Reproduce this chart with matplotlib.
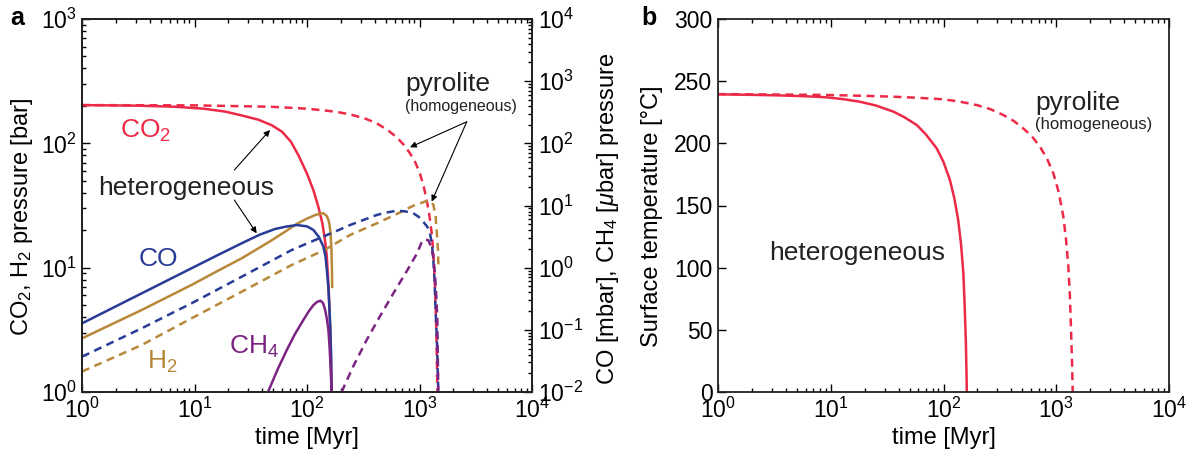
import numpy as np
import matplotlib
matplotlib.use("Agg")
import matplotlib.pyplot as plt
from matplotlib.ticker import LogLocator, NullFormatter, MultipleLocator

plt.rcParams['font.family'] = ['Liberation Sans', 'DejaVu Sans']
plt.rcParams['mathtext.fontset'] = 'custom'
plt.rcParams['mathtext.rm'] = 'Liberation Sans'
plt.rcParams['mathtext.it'] = 'Liberation Sans:italic'
plt.rcParams['mathtext.bf'] = 'Liberation Sans:bold'

# colours
RED = '#EC2A48'
BLUE = '#283B96'
GOLD = '#B8883A'
PURPLE = '#7B2483'
INK = '#222222'

# ---- panel a data (time in Myr) ----
# CO2 [bar], heterogeneous (solid) and pyrolite (dashed)
co2_het_t = [1, 3, 6.7, 12, 18.7, 26, 36.9, 48.5, 60, 72, 84, 100, 114, 126, 137, 144, 150,
             156, 160, 163, 165]
co2_het = [203, 201, 197, 190, 180, 168, 155, 140, 124, 103, 80, 57, 42, 31, 22.7, 17, 12.3,
           6.6, 3.6, 2.0, 1.0]
co2_pyr_t = [1, 10, 47, 100, 177, 241, 330, 416, 520, 627, 720, 824, 920, 1010, 1090, 1158,
             1220, 1283, 1330, 1374, 1410, 1445]
co2_pyr = [203, 202, 197, 190, 180, 171, 158, 145, 128, 112, 98, 83, 70, 57, 45, 35,
           27, 19, 13, 7, 3.2, 1.0]

# H2 [bar]
h2_het_t = [1, 3.4, 9.4, 16, 26.3, 47, 64, 81, 100, 118, 130, 140, 150, 155, 158, 162, 165,
            166.5, 167.5]
h2_het = [2.7, 4.57, 7.26, 9.4, 11.9, 16.3, 19.5, 22.5, 24.8, 26.5, 27.1, 27.4, 26, 24.2, 22.4,
          19, 13.9, 9.6, 7.0]
h2_pyr_t = [1, 3.4, 9.4, 26.3, 73, 141, 241, 416, 627, 881, 1119, 1240, 1330, 1390, 1430,
            1460, 1475]
h2_pyr = [1.46, 2.39, 3.91, 6.41, 10.5, 13.8, 18.3, 22.7, 27, 31.5, 34, 34.6, 32, 25.7, 18.3,
          13.8, 9.9]

# CO [mbar]
co_het_t = [1, 3.4, 9.4, 16, 26.3, 38, 52, 65, 81, 100, 114, 128, 140, 146, 151, 155, 158,
            161, 164, 165.5]
co_het = [0.127, 0.387, 0.977, 1.585, 2.47, 3.39, 4.19, 4.57, 4.85, 4.62, 4.04, 3.09, 2.17,
          1.51, 0.813, 0.468, 0.236, 0.112, 0.037, 0.01]
co_pyr_t = [1, 3.4, 9.4, 26.3, 73, 120, 177, 241, 416, 500, 627, 750, 881, 980, 1081, 1170,
            1239, 1290, 1327, 1360, 1390, 1430, 1469]
co_pyr = [0.037, 0.106, 0.267, 0.716, 1.92, 2.82, 3.79, 4.85, 7.03, 7.67, 8.24, 8.04, 7.48,
          6.61, 5.48, 4.57, 3.57, 2.4, 1.33, 0.63, 0.208, 0.063, 0.01]

# CH4 [ubar]
ch4_het_t = [45, 55, 66, 78, 92.8, 104, 114, 123, 132, 139, 145, 150, 155, 159, 163, 165.5]
ch4_het = [0.01, 0.0234, 0.047, 0.085, 0.144, 0.2, 0.25, 0.282, 0.294, 0.269, 0.21, 0.151,
           0.1, 0.05, 0.02, 0.01]
ch4_pyr_t = [203, 258, 339, 446, 587, 772, 944, 1040, 1119, 1200, 1283, 1330, 1374, 1410,
             1440, 1469]
ch4_pyr = [0.01, 0.026, 0.0686, 0.166, 0.389, 0.883, 1.66, 2.5, 2.86, 2.75, 2.07, 1.41, 0.762,
           0.355, 0.144, 0.01]

# ---- panel b data: surface temperature [deg C] ----
temp_het_t = [1, 2, 3.3, 5, 7, 9.2, 13, 18, 25, 36, 45, 58, 70, 87, 100, 114, 125, 135, 143,
              150, 154, 158, 160, 161]
temp_het = [239.4, 239.0, 238.6, 238.1, 237.6, 237, 235.5, 233.5, 230.5, 225.5, 221, 214.7,
            207, 196, 185, 170.5, 155.5, 138.3, 119, 95.5, 70, 39, 15, 0]
temp_pyr_t = [1, 3, 9.2, 20, 36, 60, 100, 140, 197, 260, 339, 420, 510, 610, 717, 830, 942,
              1050, 1156, 1220, 1280, 1320, 1350, 1380, 1400]
temp_pyr = [239.6, 239.3, 238.9, 238.2, 237.5, 236.6, 235.4, 233.5, 230.8, 227.5, 222.8, 218,
            212, 205.5, 197.3, 187.5, 175.9, 161, 141, 123, 100.8, 78, 52.5, 25, 0]

LW = 1.8
DASH = (0, (3.2, 2.2))

fig = plt.figure(figsize=(11.95, 4.57), dpi=100)
ax = fig.add_axes([82 / 1195, 65 / 457, 450 / 1195, 373 / 457])
axr = ax.twinx()
axb = fig.add_axes([718 / 1195, 65 / 457, 451 / 1195, 373 / 457])

# panel a, left axis
ax.plot(co2_het_t, co2_het, color=RED, lw=LW)
ax.plot(co2_pyr_t, co2_pyr, color=RED, lw=LW, ls=DASH)
ax.plot(h2_het_t, h2_het, color=GOLD, lw=LW)
ax.plot(h2_pyr_t, h2_pyr, color=GOLD, lw=LW, ls=DASH)
# panel a, right axis
axr.plot(co_het_t, co_het, color=BLUE, lw=LW)
axr.plot(co_pyr_t, co_pyr, color=BLUE, lw=LW, ls=DASH)
axr.plot(ch4_het_t, ch4_het, color=PURPLE, lw=LW)
axr.plot(ch4_pyr_t, ch4_pyr, color=PURPLE, lw=LW, ls=DASH)

ax.set_xscale('log')
ax.set_yscale('log')
axr.set_yscale('log')
ax.set_xlim(1, 1e4)
ax.set_ylim(1, 1e3)
axr.set_ylim(1e-2, 1e4)

for a in (ax, axr, axb):
    a.tick_params(which='both', direction='in', labelsize=16.5, pad=4, width=1.0)
    a.tick_params(which='major', length=6)
    a.tick_params(which='minor', length=3)
    for s in a.spines.values():
        s.set_linewidth(1.3)
        s.set_color(INK)

ax.tick_params(which='both', top=True, right=False)
axr.tick_params(which='both', right=True)
for a in (ax, axr):
    a.yaxis.set_major_locator(LogLocator(base=10, numticks=10))
    a.yaxis.set_minor_locator(LogLocator(base=10, subs=np.arange(2, 10), numticks=10))
    a.yaxis.set_minor_formatter(NullFormatter())
ax.xaxis.set_major_locator(LogLocator(base=10, numticks=10))
ax.xaxis.set_minor_locator(LogLocator(base=10, subs=np.arange(2, 10), numticks=10))

ax.set_xlabel('time [Myr]', fontsize=17, labelpad=3)
ax.set_ylabel('CO$_2$, H$_2$ pressure [bar]', fontsize=17, va='center')
ax.yaxis.set_label_coords(-0.134, 0.47)
axr.set_ylabel(r'CO [mbar], CH$_4$ [$\mu$bar] pressure', fontsize=17, va='center')
axr.yaxis.set_label_coords(1.169, 0.465)

# labels for species
ax.text(0.084, 0.70, 'CO$_2$', color=RED, fontsize=19, transform=ax.transAxes, va='center')
ax.text(0.125, 0.357, 'CO', color=BLUE, fontsize=19, transform=ax.transAxes, va='center')
ax.text(0.144, 0.08, 'H$_2$', color=GOLD, fontsize=19, transform=ax.transAxes, va='center')
ax.text(0.327, 0.121, 'CH$_4$', color=PURPLE, fontsize=19, transform=ax.transAxes, va='center')
ax.text(0.036, 0.548, 'heterogeneous', fontsize=19, transform=ax.transAxes, va='center',
        color=INK)
ax.text(0.718, 0.826, 'pyrolite', fontsize=19, transform=ax.transAxes, va='center', color=INK)
ax.text(0.718, 0.765, '(homogeneous)', fontsize=11.5, transform=ax.transAxes, va='center',
        color=INK)

arrow = dict(arrowstyle='-|>', color='k', lw=0.8, mutation_scale=9, shrinkA=0, shrinkB=0)
ax.annotate('', xy=(46.9, 128), xytext=(22.6, 61), arrowprops=arrow)
ax.annotate('', xy=(35.7, 18.9), xytext=(22.6, 35), arrowprops=arrow)
ax.annotate('', xy=(824, 93), xytext=(2630, 149), arrowprops=arrow)
ax.annotate('', xy=(1283, 34), xytext=(2630, 149), arrowprops=arrow)

# panel b
axb.plot(temp_het_t, temp_het, color=RED, lw=LW)
axb.plot(temp_pyr_t, temp_pyr, color=RED, lw=LW, ls=DASH)
axb.set_xscale('log')
axb.set_xlim(1, 1e4)
axb.set_ylim(0, 300)
axb.yaxis.set_major_locator(MultipleLocator(50))
axb.xaxis.set_major_locator(LogLocator(base=10, numticks=10))
axb.xaxis.set_minor_locator(LogLocator(base=10, subs=np.arange(2, 10), numticks=10))
axb.tick_params(which='both', top=True, right=False)
axb.set_xlabel('time [Myr]', fontsize=17, labelpad=3)
axb.set_ylabel('Surface temperature [°C]', fontsize=17, va='center')
axb.yaxis.set_label_coords(-0.146, 0.47)
axb.text(0.113, 0.373, 'heterogeneous', fontsize=19, transform=axb.transAxes, va='center',
         color=INK)
axb.text(0.703, 0.776, 'pyrolite', fontsize=19, transform=axb.transAxes, va='center', color=INK)
axb.text(0.703, 0.716, '(homogeneous)', fontsize=12, transform=axb.transAxes, va='center',
         color=INK)

fig.text(10 / 1195, 1 - 6 / 457, 'a', fontsize=18, fontweight='bold', va='top')
fig.text(641 / 1195, 1 - 6 / 457, 'b', fontsize=18, fontweight='bold', va='top')

fig.savefig('out.png', dpi=100)
